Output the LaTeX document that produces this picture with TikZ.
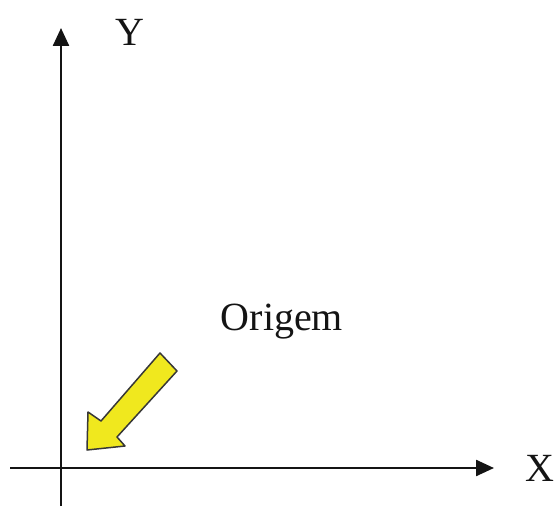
\documentclass[tikz,border=0pt]{standalone}
\usepackage{fontspec}
\setmainfont{Liberation Serif}
\usetikzlibrary{arrows.meta}
\definecolor{ink}{RGB}{20,20,20}
\definecolor{marker}{RGB}{240,232,30}

\begin{document}
\begin{tikzpicture}[
  x=1pt,y=-1pt,
  axis/.style={-{Triangle[length=18pt,width=16pt]}, draw=ink,
               line width=2.4pt},
  label/.style={font=\fontsize{40}{46}\selectfont, text=ink},
  pointer/.style={draw=ink!85, fill=marker, line width=1.5pt,
                  line join=round}
]
\useasboundingbox (0,0) rectangle (556,508);

% Axes.
\coordinate (xstart) at (10,468);
\coordinate (xend) at (494,468);
\coordinate (ystart) at (61,506);
\coordinate (yend) at (61,28);
\draw[axis] (xstart) -- (xend);
\draw[axis] (ystart) -- (yend);

\node[label] (ylab) at (130,32) {Y};
\node[label] (xlab) at (540,468) {X};

% Pointer towards the origin.
\node[label] (origem) at (282,322) {Origem};
\draw[pointer] (160,353) -- (177,371) -- (117,437) -- (125,446)
  -- (87,450) -- (88,412) -- (101,421) -- cycle;

\end{tikzpicture}
\end{document}
